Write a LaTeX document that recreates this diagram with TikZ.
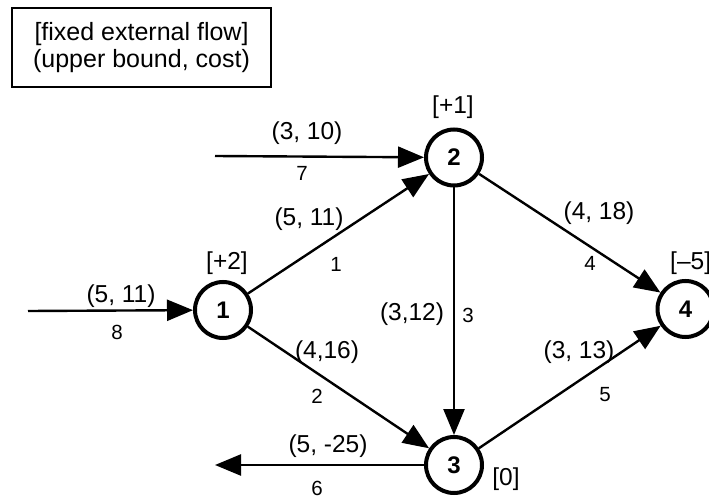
\documentclass[tikz,border=0pt]{standalone}
\usepackage{fontspec}
\setmainfont{Liberation Sans}
\usetikzlibrary{arrows.meta}
\begin{document}
\begin{tikzpicture}[x=1pt,y=-1pt,
  vertex/.style={circle, draw, line width=4pt, minimum size=56pt, inner sep=0pt, font=\fontsize{24}{28}\selectfont\bfseries},
  arc/.style={line width=2.4pt, -{Triangle[length=26pt,width=21pt]}},
  lab/.style={font=\fontsize{24.5}{28}\selectfont, inner sep=0pt},
  num/.style={font=\fontsize{20.5}{24}\selectfont, inner sep=0pt},
  legend/.style={draw, line width=2.4pt, minimum width=259pt, minimum height=79pt, align=center, inner sep=0pt, font=\fontsize{25}{27}\selectfont}]
\useasboundingbox (0,0) rectangle (709,497);
\clip (0,0) rectangle (709,497);
\node[legend] (key) at (141.5,47.5) {[fixed external flow]\\(upper bound, cost)};

\node[vertex] (n1) at (223,310) {1};
\node[vertex] (n2) at (454,157.5) {2};
\node[vertex] (n3) at (454,465) {3};
\node[vertex] (n4) at (685.5,309) {4};

\coordinate (s8) at (28,311);
\coordinate (s7) at (215,156);
\coordinate (t6) at (215,465);

\draw[arc] (s8) -- (n1);
\draw[arc] (s7) -- (n2);
\draw[arc] (n3) -- (t6);
\draw[arc] (n1) -- (n2);
\draw[arc] (n1) -- (n3);
\draw[arc] (n2) -- (n3);
\draw[arc] (n2) -- (n4);
\draw[arc] (n3) -- (n4);

\node[lab] (b1) at (227,263) {[+2]};
\node[lab] (b2) at (453,107) {[+1]};
\node[lab] (b3) at (506,479) {[0]};
\node[lab, anchor=west] (b4) at (670,263) {[–5]};

\node[lab] (l8) at (121,296) {(5, 11)};
\node[num] (m8) at (117,332) {8};
\node[lab] (l7) at (307,133) {(3, 10)};
\node[num] (m7) at (302,173) {7};
\node[lab] (l6) at (328,446) {(5, -25)};
\node[num] (m6) at (317,488) {6};
\node[lab] (l1) at (309,219) {(5, 11)};
\node[num] (m1) at (336,264) {1};
\node[lab] (l2) at (327,352) {(4,16)};
\node[num] (m2) at (317,396) {2};
\node[lab] (l3) at (412,314) {(3,12)};
\node[num] (m3) at (468,315) {3};
\node[lab] (l4) at (599,213) {(4, 18)};
\node[num] (m4) at (590,263) {4};
\node[lab] (l5) at (579,352) {(3, 13)};
\node[num] (m5) at (605,395) {5};
\end{tikzpicture}
\end{document}
